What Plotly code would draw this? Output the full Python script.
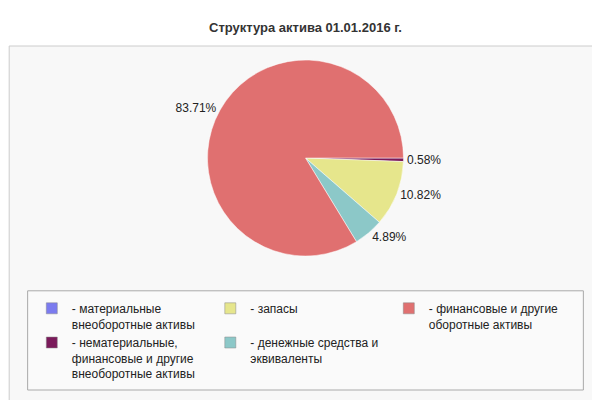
import plotly.graph_objects as go

labels = ["- материальные<br>внеоборотные активы",
          "- нематериальные,<br>финансовые и другие<br>внеоборотные активы",
          "- запасы",
          "- денежные средства и<br>эквиваленты",
          "- финансовые и другие<br>оборотные активы"]
values = [0.0, 0.58, 10.82, 4.89, 83.71]
colors = ["#7b7bef", "#7a1a5a", "#e6e68c", "#8cc8c8", "#e07070"]
ranks = [1, 4, 2, 5, 3]

fig = go.Figure()
fig.add_trace(go.Pie(
    labels=labels, values=values, sort=False, direction="clockwise", rotation=90,
    marker=dict(colors=colors, line=dict(color="#ffffff", width=0.5)),
    texttemplate=[("%{value:.2f}%" if v > 0 else "") for v in values],
    textposition="outside", textfont=dict(size=12, color="#222"),
    domain=dict(x=[0.2, 0.8], y=[0.38, 0.87]), showlegend=False,
    hoverinfo="label+percent",
))
for lab, col, rk in zip(labels, colors, ranks):
    fig.add_trace(go.Scatter(x=[None], y=[None], mode="markers", name=lab, legendrank=rk,
                             marker=dict(symbol="square", size=11, color=col,
                                         line=dict(color="#888", width=0.5))))

fig.update_layout(
    width=600, height=400, margin=dict(l=0, r=0, t=0, b=0),
    paper_bgcolor="white", plot_bgcolor="rgba(0,0,0,0)",
    xaxis=dict(visible=False), yaxis=dict(visible=False),
    font=dict(family="Arial, Liberation Sans", size=12, color="#222"),
    shapes=[
        dict(type="rect", xref="paper", yref="paper", x0=0.002, x1=0.996, y0=0.015, y1=0.905,
             line=dict(color="#cccccc", width=1), fillcolor="#f8f8f8", layer="below"),
        dict(type="rect", xref="paper", yref="paper", x0=0.033, x1=0.967, y0=0.045, y1=0.293,
             line=dict(color="#aaaaaa", width=1), fillcolor="#fafafa", layer="below"),
    ],
    annotations=[dict(text="<b>Структура актива 01.01.2016 г.</b>", x=0.5, y=0.975, xref="paper",
                      yref="paper", showarrow=False, font=dict(size=13, color="#333"))],
    legend=dict(orientation="h", x=0.04, y=0.285, xanchor="left", yanchor="top",
                entrywidth=0.3, entrywidthmode="fraction", traceorder="normal",
                bgcolor="rgba(0,0,0,0)", font=dict(size=12), valign="top",
                itemwidth=30, tracegroupgap=0),
)
fig.write_html("out.html")
